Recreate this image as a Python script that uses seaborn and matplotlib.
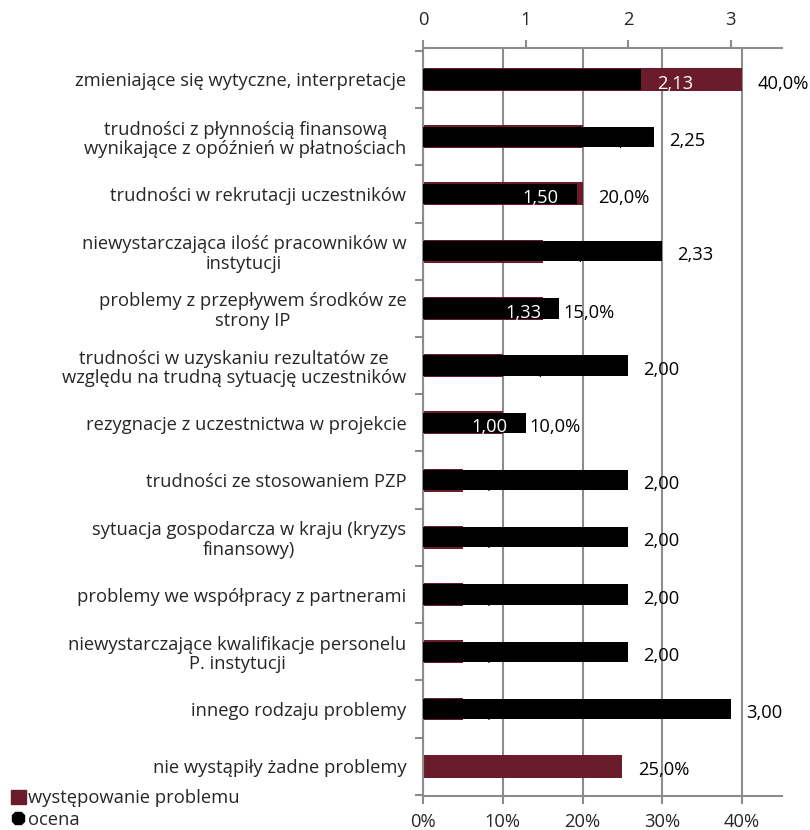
import matplotlib
matplotlib.use("Agg")
import matplotlib.pyplot as plt
import seaborn as sns
import pandas as pd
import numpy as np
from matplotlib.ticker import FuncFormatter, FixedLocator
from matplotlib.patches import Patch
from matplotlib.lines import Line2D

# --- data -------------------------------------------------------------
categories = [
    "zmieniające się wytyczne, interpretacje",
    "trudności z płynnością finansową\nwynikające z opóźnień w płatnościach",
    "trudności w rekrutacji uczestników",
    "niewystarczająca ilość pracowników w\ninstytucji",
    "problemy z przepływem środków ze\nstrony IP",
    "trudności w uzyskaniu rezultatów ze\nwzględu na trudną sytuację uczestników",
    "rezygnacje z uczestnictwa w projekcie",
    "trudności ze stosowaniem PZP",
    "sytuacja gospodarcza w kraju (kryzys\nfinansowy)",
    "problemy we współpracy z partnerami",
    "niewystarczające kwalifikacje personelu\nP. instytucji",
    "innego rodzaju problemy",
    "nie wystąpiły żadne problemy",
]
wystepowanie = [40.0, 20.0, 20.0, 15.0, 15.0, 10.0, 10.0, 5.0, 5.0, 5.0, 5.0, 5.0, 25.0]
ocena = [2.13, 2.25, 1.50, 2.33, 1.33, 2.00, 1.00, 2.00, 2.00, 2.00, 2.00, 3.00, np.nan]

pct_ticks = [0, 10, 20, 30, 40]
ocena_ticks = [0, 1, 2, 3]
series_names = ["występowanie problemu", "ocena"]

# --- style ------------------------------------------------------------
MAROON = "#6B1C2C"
GRAY = "#8C8C8C"
sns.set_style("white")
plt.rcParams["font.family"] = ["Open Sans", "DejaVu Sans"]
FS = 13.2

PCT_MAX, OC_MAX = 45.0, 3.5

fig = plt.figure(figsize=(8.1, 8.3), dpi=100)
W, H = 810, 830
ax = fig.add_axes([423 / W, 1 - 796 / H, (782 - 423) / W, (796 - 48) / H])

df_pct = pd.DataFrame({"kategoria": categories, "wartosc": wystepowanie})
sns.barplot(data=df_pct, x="wartosc", y="kategoria", order=categories,
            orient="h", color=MAROON, saturation=1, width=0.40, ax=ax,
            linewidth=0, zorder=2)

ax2 = ax.twiny()
df_oc = pd.DataFrame({"kategoria": categories, "ocena": ocena}).dropna()
sns.barplot(data=df_oc, x="ocena", y="kategoria", order=categories,
            orient="h", color="black", saturation=1, width=0.355, ax=ax2,
            linewidth=0, zorder=2)

ax.set_xlim(0, PCT_MAX)
ax2.set_xlim(0, OC_MAX)
ax.set_ylim(len(categories) - 0.48, -0.55)
ax.set_xlabel("")
ax.set_ylabel("")
ax2.set_xlabel("")
ax2.set_ylabel("")

# axes, ticks, grid
for name, sp in ax.spines.items():
    sp.set_visible(name in ("left", "bottom"))
    sp.set_color(GRAY)
    sp.set_linewidth(1.5)
for name, sp in ax2.spines.items():
    sp.set_visible(name == "top")
    sp.set_color(GRAY)
    sp.set_linewidth(1.5)

ax.xaxis.set_major_locator(FixedLocator(pct_ticks))
ax.xaxis.set_major_formatter(FuncFormatter(lambda v, p: f"{v:.0f}%"))
ax.tick_params(axis="x", which="major", direction="out", length=6, width=1.5,
               color=GRAY, labelsize=FS, pad=6, bottom=True)
ax.xaxis.grid(True, color=GRAY, linewidth=1.5)
ax.set_axisbelow(True)

ax.set_yticks(range(len(categories)))
ax.set_yticklabels(categories, fontsize=FS)
for t in ax.get_yticklabels():
    t.set_multialignment("center")
    t.set_linespacing(1.1)
ax.yaxis.set_minor_locator(FixedLocator(np.arange(-0.5, len(categories), 1.0)))
ax.tick_params(axis="y", which="major", length=0, pad=12)
ax.tick_params(axis="y", which="minor", direction="out", length=6, width=1.5,
               color=GRAY, left=True)

ax2.xaxis.set_major_locator(FixedLocator(ocena_ticks))
ax2.xaxis.set_major_formatter(FuncFormatter(lambda v, p: f"{v:.0f}"))
ax2.tick_params(axis="x", which="major", direction="out", length=6, width=1.5,
                color=GRAY, labelsize=FS, pad=8, top=True)


def fmt(v, nd=2):
    return f"{v:.{nd}f}".replace(".", ",")


# --- data labels -----------------------------------------------------
OFF = 11   # horizontal gap, points
DY = -3    # labels sit slightly below the bar centre
for i, (p, o) in enumerate(zip(wystepowanie, ocena)):
    o_pct = o * PCT_MAX / OC_MAX if not np.isnan(o) else np.nan
    close = (not np.isnan(o)) and abs(o_pct - p) < 4
    # percentage label (stays behind the ocena bar when covered);
    # when both bar ends nearly coincide it moves past the longer one
    if close and o_pct > p:
        px, gap = o_pct, 3
    else:
        px, gap = p, OFF
    ax.annotate(fmt(p, 1) + "%", (px, i), xytext=(gap, DY),
                textcoords="offset points", ha="left", va="center",
                fontsize=FS, color="black", zorder=1)
    if np.isnan(o):
        continue
    if close:
        ax2.annotate(fmt(o), (o, i), xytext=(-13, DY),
                     textcoords="offset points", ha="right", va="center",
                     fontsize=FS, color="white", zorder=5)
    else:
        on_maroon = o_pct + 8 < p
        ax2.annotate(fmt(o), (o, i), xytext=(OFF, DY),
                     textcoords="offset points", ha="left", va="center",
                     fontsize=FS, color="white" if on_maroon else "black",
                     zorder=5)

# --- legend -----------------------------------------------------------
handles = [
    Patch(facecolor=MAROON, edgecolor=MAROON),
    Line2D([], [], linestyle="none", marker="8", markersize=10,
           markerfacecolor="black", markeredgecolor="black"),
]
fig.legend(handles, series_names, loc="lower left",
           bbox_to_anchor=(0.0, -0.012), frameon=False, fontsize=FS,
           handlelength=0.8, handleheight=0.8, handletextpad=0.15,
           labelspacing=0.2, borderpad=0.1)

fig.savefig("out.png", dpi=100)
